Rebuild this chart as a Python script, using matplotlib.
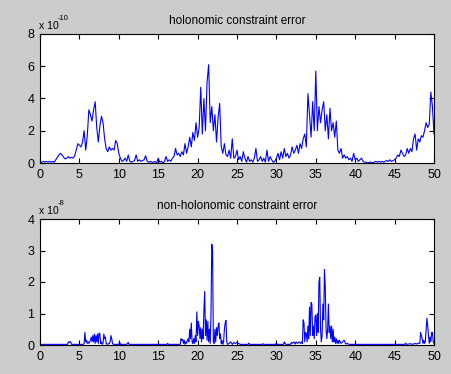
import matplotlib
matplotlib.use("Agg")
import matplotlib.pyplot as plt
import numpy as np

plt.rcParams['font.family'] = ['Liberation Sans', 'DejaVu Sans']

# ---- top series: holonomic constraint error (x 1e-10), sampled every 0.2 s ----
t_top_start = 0.0
t_top_step = 0.2
holo = [
    0.05, 0.05, 0.1, 0.05, 0.1,
    0.05, 0.1, 0.05, 0.1, 0.05,
    0.2, 0.35, 0.5, 0.6, 0.5,
    0.35, 0.25, 0.3, 0.4, 0.3,
    0.35, 0.3, 0.45, 0.8, 1.2,
    1.1, 1.0, 1.3, 2.0, 0.8,
    1.7, 3.3, 3.0, 2.6, 3.3,
    3.8, 2.2, 1.3, 2.3, 2.9,
    2.5, 1.5, 0.9, 0.7, 1.0,
    0.8, 0.9, 0.8, 1.4, 1.2,
    0.6, 0.3, 0.1, 0.15, 0.3,
    0.1, 0.5, 0.1, 0.05, 0.1,
    0.15, 0.5, 0.1, 0.2, 0.1,
    0.15, 0.2, 0.45, 0.1, 0.05,
    0.1, 0.05, 0.05, 0.1, 0.0,
    0.3, 0.05, 0.1, 0.0, 0.1,
    0.4, 0.1, 0.2, 0.1, 0.3,
    0.4, 0.9, 0.5, 0.6, 0.4,
    0.7, 0.5, 1.2, 0.6, 1.0,
    1.6, 1.0, 1.9, 1.4, 2.5,
    1.6, 2.2, 4.7, 1.8, 4.0,
    2.0, 5.0, 6.1, 2.5, 3.5,
    2.0, 3.0, 1.3, 2.8, 3.7,
    1.0, 0.6, 1.2, 0.5, 0.4,
    0.8, 0.3, 1.5, 0.3, 0.4,
    0.8, 0.2, 0.4, 0.1, 0.7,
    0.3, 0.05, 0.4, 0.1, 0.2,
    0.05, 0.3, 0.9, 0.1, 0.2,
    0.4, 0.1, 0.3, 0.05, 0.8,
    0.1, 0.4, 0.2, 0.05, 0.1,
    0.3, 0.6, 0.2, 0.7, 0.3,
    0.9, 0.4, 0.6, 0.3, 0.5,
    1.0, 0.6, 0.8, 1.1, 0.6,
    1.2, 0.9, 1.5, 1.8, 1.0,
    4.3, 3.0, 1.6, 3.8, 2.0,
    5.7, 2.0, 3.5, 2.5, 3.3,
    3.8, 2.0, 3.0, 1.5, 3.4,
    2.0, 2.5, 1.6, 2.6, 0.8,
    0.6, 0.9, 0.3, 0.5, 0.3,
    0.4, 0.2, 0.3, 0.1, 0.6,
    0.2, 0.3, 0.1, 0.2, 0.3,
    0.1, 0.05, 0.05, 0.0, 0.05,
    0.05, 0.0, 0.05, 0.1, 0.05,
    0.1, 0.05, 0.1, 0.05, 0.1,
    0.15, 0.1, 0.2, 0.1, 0.15,
    0.2, 0.3, 0.5, 0.4, 0.8,
    0.6, 0.4, 0.5, 0.9, 0.6,
    0.9, 0.7, 1.5, 1.8, 0.8,
    1.5, 1.3, 1.7, 1.6, 2.0,
    2.5, 2.2, 2.4, 4.4, 3.5,
    1.8,
]

# ---- bottom series: non-holonomic constraint error (x 1e-8) ----
nh_t = [
    0, 1, 2, 3, 3.5, 3.6, 3.7, 3.8, 3.9, 4.0, 5.0, 5.5, 5.6, 5.7, 5.8, 5.9,
    6.0, 6.1, 6.2, 6.3, 6.4, 6.5, 6.6, 6.7, 6.8, 6.9, 7.0, 7.1, 7.2, 7.3, 7.4,
    7.5, 7.6, 7.7, 7.8, 7.9, 8.0, 8.1, 8.2, 8.3, 8.4, 8.5, 8.8, 8.9, 9.0, 9.1,
    9.2, 9.3, 10.0, 10.1, 10.2, 11.0, 11.1, 11.2, 11.3, 16.1, 16.2, 16.3, 17.8,
    17.9, 18.0, 18.1, 18.2, 18.3, 18.4, 18.5, 18.6, 18.7, 18.8, 18.9, 19.0,
    19.1, 19.2, 19.3, 19.4, 19.5, 19.6, 19.7, 19.8, 19.9, 20.0, 20.1, 20.2,
    20.3, 20.4, 20.5, 20.6, 20.7, 20.8, 20.9, 21.0, 21.1, 21.2, 21.3, 21.4,
    21.5, 21.6, 21.7, 21.8, 21.9, 22.0, 22.1, 22.2, 22.3, 22.4, 22.5, 22.6,
    22.7, 22.8, 22.9, 23.0, 23.1, 23.2, 23.3, 23.4, 23.5, 23.6, 23.7, 23.8,
    24.0, 24.2, 24.4, 24.6, 24.8, 25.0, 25.2, 25.4, 26.4, 26.5, 26.6, 28.2,
    28.3, 28.4, 29.9, 30.0, 30.1, 30.9, 31.0, 31.1, 31.2, 31.8, 31.9, 32.0,
    32.2, 32.4, 32.5, 32.7, 32.9, 33.1, 33.2, 33.3, 33.4, 33.5, 33.6, 33.7,
    33.8, 33.9, 34.0, 34.1, 34.2, 34.3, 34.4, 34.5, 34.6, 34.7, 34.8, 34.9,
    35.0, 35.1, 35.2, 35.3, 35.4, 35.5, 35.6, 35.7, 35.8, 35.9, 36.0, 36.1,
    36.2, 36.3, 36.4, 36.5, 36.6, 36.7, 36.8, 36.9, 37.0, 37.1, 37.2, 37.3,
    37.4, 37.5, 37.6, 37.7, 37.8, 37.9, 38.0, 38.2, 38.4, 38.6, 38.8, 39.0,
    39.2, 46.3, 46.4, 46.5, 47.0, 47.3, 47.6, 47.8, 48.0, 48.2, 48.3, 48.4,
    48.5, 48.6, 48.7, 48.8, 48.9, 49.0, 49.1, 49.2, 49.3, 49.4, 49.5, 49.6,
    49.7, 49.8, 49.9, 50.0,
]
nonholo = [
    0.02, 0.02, 0.02, 0.02, 0.02, 0.1, 0.08, 0.1, 0.1, 0.02, 0.02, 0.02, 0.05, 0.4, 0.1, 0.15,
    0.05, 0.1, 0.05, 0.1, 0.15, 0.25, 0.1, 0.3, 0.1, 0.35, 0.05, 0.3, 0.1, 0.35, 0.05,
    0.38, 0.35, 0.05, 0.1, 0.02, 0.05, 0.35, 0.2, 0.25, 0.05, 0.02, 0.05, 0.1, 0.3, 0.2,
    0.05, 0.02, 0.02, 0.1, 0.02, 0.02, 0.06, 0.08, 0.02, 0.02, 0.05, 0.02, 0.02,
    0.2, 0.15, 0.18, 0.05, 0.15, 0.02, 0.1, 0.05, 0.15, 0.2, 0.1, 0.5,
    0.2, 0.7, 0.1, 0.05, 0.2, 0.05, 0.3, 0.1, 1.05, 0.3, 0.75, 0.6,
    0.2, 0.55, 0.1, 0.5, 0.2, 1.1, 1.7, 0.3, 0.8, 0.15, 0.75, 0.1,
    0.5, 0.05, 1.0, 3.2, 3.0, 0.1, 0.05, 0.5, 0.1, 0.55, 0.3, 0.6,
    0.7, 0.2, 0.35, 0.05, 0.15, 0.02, 0.1, 0.5, 0.7, 0.78, 0.1, 0.02,
    0.05, 0.1, 0.02, 0.08, 0.05, 0.08, 0.05, 0.02, 0.02, 0.06, 0.02, 0.02,
    0.04, 0.02, 0.02, 0.06, 0.02, 0.02, 0.1, 0.05, 0.02, 0.02, 0.08, 0.05,
    0.1, 0.03, 0.1, 0.05, 0.1, 0.05, 0.1, 0.05, 0.8, 0.7, 0.1, 0.4,
    0.35, 0.1, 0.6, 0.2, 1.2, 0.3, 1.35, 1.3, 0.3, 0.6, 0.2, 0.9,
    0.95, 0.3, 1.0, 0.4, 2.0, 2.15, 0.5, 0.1, 0.3, 1.3, 0.8, 2.4,
    1.85, 0.5, 0.2, 0.5, 1.3, 0.4, 0.6, 0.2, 0.6, 0.1, 0.5, 0.1,
    0.25, 0.05, 0.2, 0.05, 0.15, 0.05, 0.15, 0.05, 0.1, 0.15, 0.03, 0.05,
    0.02, 0.02, 0.06, 0.02, 0.04, 0.02, 0.05, 0.03, 0.06, 0.05, 0.4, 0.3,
    0.2, 0.05, 0.15, 0.05, 0.1, 0.5, 0.85, 0.6, 0.3, 0.05, 0.25, 0.1,
    0.4, 0.4, 0.1, 0.05,
]

titles = ["holonomic constraint error", "non-holonomic constraint error"]
exponents = ["-10", "-8"]
ylims = [8, 4]
yticks = [[0, 2, 4, 6, 8], [0, 1, 2, 3, 4]]
xticks = [0, 5, 10, 15, 20, 25, 30, 35, 40, 45, 50]

W, H = 452, 374
fig = plt.figure(figsize=(W / 100, H / 100), dpi=100, facecolor='#cccccc')

t_top = t_top_start + t_top_step * np.arange(len(holo))
series = [(t_top, np.array(holo)), (np.array(nh_t), np.array(nonholo))]

# axes boxes in pixels: (left, top, right, bottom)
boxes = [(40, 34, 434, 163), (40, 219, 434, 345)]

for i, (l, tp, r, b) in enumerate(boxes):
    ax = fig.add_axes([l / W, 1 - b / H, (r - l) / W, (b - tp) / H])
    ax.set_facecolor('white')
    x, y = series[i]
    ax.plot(x, y, color='#0000ff', lw=0.8)
    ax.set_xlim(0, 50)
    ax.set_ylim(0, ylims[i])
    ax.set_xticks(xticks)
    ax.set_yticks(yticks[i])
    ax.tick_params(direction='in', top=True, right=True, length=3.5,
                   width=0.8, labelsize=9, pad=4, colors='black')
    for s in ax.spines.values():
        s.set_linewidth(0.8)
        s.set_color('black')
    ax.set_title(titles[i], fontsize=8.5, pad=7)
    # exponent label
    fig.text((l - 1) / W, 1 - (tp - 8) / H, "x 10", fontsize=7.5,
             ha='left', va='center')
    fig.text((l + 18) / W, 1 - (tp - 15) / H, exponents[i], fontsize=5.5,
             ha='left', va='center')

fig.savefig("out.png", dpi=100, facecolor=fig.get_facecolor())
